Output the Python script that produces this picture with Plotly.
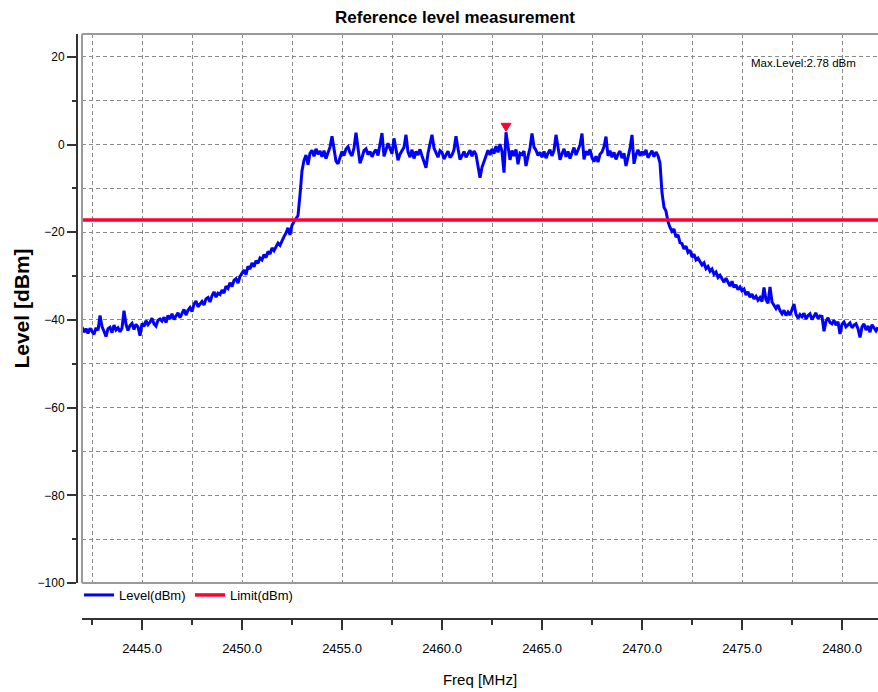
import plotly.graph_objects as go

# ---------------- data ----------------
FREQ_START_MHZ = 2442.0
FREQ_STEP_MHZ = 0.1

LEVEL_DBM = [
    # 2442.0 - 2442.9
    -41.6, -42.8, -42.0, -43.1, -41.9, -42.5, -43.3, -41.8, -42.4, -39.0,
    # 2443
    -41.5, -42.6, -43.8, -42.0, -41.7, -42.9, -41.2, -42.3, -41.8, -42.7,
    # 2444
    -41.9, -37.9, -41.0, -42.4, -41.3, -40.8, -42.2, -41.0, -41.6, -43.6,
    # 2445
    -40.8, -41.5, -40.2, -41.1, -40.5, -39.6, -40.9, -41.4, -40.1, -39.8,
    # 2446
    -40.3, -39.4, -40.6, -39.0, -39.8, -38.6, -39.9, -39.1, -38.4, -39.5,
    # 2447
    -38.7, -37.6, -38.9, -37.8, -37.2, -38.1, -36.4, -35.7, -37.0, -36.3,
    # 2448
    -35.8, -36.6, -35.2, -34.9, -35.9, -34.5, -33.6, -34.8, -33.9, -34.2,
    # 2449
    -33.2, -33.9, -32.3, -32.8, -31.5, -32.4, -31.0, -30.6, -31.6, -30.1,
    # 2450
    -29.4, -28.6, -29.7, -27.8, -28.4, -27.0, -27.9, -26.5, -27.1, -25.9,
    # 2451
    -26.3, -25.1, -25.8, -24.4, -25.0, -23.6, -24.2, -23.4, -22.5, -23.0,
    # 2452
    -21.8, -21.0, -20.2, -19.0, -20.6, -18.4, -17.6, -16.9, -16.2, -11.5,
    # 2453
    -6.0, -3.6, -2.4, -4.6, -2.0, -1.3, -2.7, -1.0, -2.2, -1.5,
    # 2454
    -2.8, -1.4, -3.2, -1.9, -0.6, 1.9, -1.6, -3.8, -4.4, -2.9,
    # 2455
    -1.6, -2.5, -1.0, -0.5, -1.9, -2.6, -0.8, 2.7, -1.2, -4.3,
    # 2456
    -3.0, -1.4, -1.0, -2.3, -1.6, -2.8, -1.8, -1.2, -2.5, -0.3,
    # 2457
    2.6, -2.7, -1.4, 0.3, -0.9, -2.1, 1.4, -1.0, -3.6, -2.2,
    # 2458
    -1.3, -0.6, 2.2, -1.7, -2.9, -1.2, -3.2, -1.6, -2.4, -1.1,
    # 2459
    -2.6, -3.8, -5.3, -2.0, 0.1, 2.2, -0.8, -1.9, -2.9, -1.4,
    # 2460
    -1.8, -3.3, -2.2, -1.5, -3.0, -2.4, -1.2, 1.9, -0.9, -3.4,
    # 2461
    -2.6, -1.6, -2.9, -1.9, -1.3, -2.7, -1.5, -2.3, -4.8, -7.6,
    # 2462
    -5.2, -4.0, -2.6, -1.3, -2.4, -1.0, -2.1, -0.4, -1.8, 0.1,
    # 2463
    -1.6, -6.4, 2.78, -0.6, -3.5, -1.4, -2.6, -1.1, -4.5, -2.0,
    # 2464
    -2.3, -1.5, -4.9, -2.7, -0.8, 2.5, -0.6, -1.3, -2.5, -1.8,
    # 2465
    -2.9, -1.6, -3.1, -2.0, -1.2, -2.6, -1.4, 2.2, -0.9, -3.5,
    # 2466
    -2.1, -1.0, -2.8, -1.6, -3.2, -1.9, -0.7, -2.4, -1.3, -0.1,
    # 2467
    2.5, -3.4, -1.5, -2.4, -1.1, -3.0, -3.9, -2.7, -4.0, -2.2,
    # 2468
    -1.7, -0.5, 1.8, -2.6, -1.4, -2.9, -1.8, -3.4, -2.2, -1.5,
    # 2469
    -3.1, -2.0, -4.9, -2.8, -0.9, 2.2, -4.4, -2.3, -1.2, -2.6,
    # 2470
    -1.6, -2.4, -1.2, -3.0, -2.1, -1.4, -2.8, -1.7, -2.6, -4.2,
    # 2471
    -11.0, -14.3, -15.2, -17.6, -18.9, -19.8, -19.3, -21.1, -20.6, -22.4,
    # 2472
    -22.6, -23.8, -23.2, -24.6, -24.1, -25.7, -25.0, -26.3, -25.9, -26.8,
    # 2473
    -27.5, -27.0, -28.3, -27.8, -28.9, -28.4, -29.6, -29.1, -30.3, -29.8,
    # 2474
    -30.7, -31.4, -30.5, -31.6, -32.3, -31.2, -32.6, -32.0, -33.1, -32.5,
    # 2475
    -33.4, -33.0, -34.3, -33.6, -34.8, -34.1, -35.2, -34.6, -35.5, -34.9,
    # 2476
    -35.8, -32.6, -35.4, -36.2, -32.5, -35.9, -36.8, -37.4, -36.6, -37.9,
    # 2477
    -38.6, -37.8, -39.0, -38.2, -38.9, -37.6, -36.4, -38.7, -39.6, -38.8,
    # 2478
    -39.3, -38.5, -39.8, -39.0, -38.6, -39.9, -39.2, -38.4, -39.7, -39.1,
    # 2479
    -39.2, -42.6, -40.3, -39.5, -40.6, -40.9, -40.1, -41.2, -40.4, -43.2,
    # 2480
    -41.0, -40.5, -41.6, -41.1, -40.7, -41.8, -41.2, -40.9, -42.0, -44.0,
    # 2481.0 - 2481.8
    -41.6, -40.9, -42.3, -41.4, -42.8, -41.1, -41.9, -42.5, -41.7,
]

LIMIT_DBM = -17.22

X_RANGE = [2442.0, 2481.8]
Y_RANGE = [-100, 25.2]

SERIES_NAMES = ["Level(dBm)", "Limit(dBm)"]
TITLE = "Reference level measurement"
X_TITLE = "Freq [MHz]"
Y_TITLE = "Level [dBm]"

# ---------------- derived ----------------
freq = [round(FREQ_START_MHZ + i * FREQ_STEP_MHZ, 2) for i in range(len(LEVEL_DBM))]
i_max = max(range(len(LEVEL_DBM)), key=lambda i: LEVEL_DBM[i])
f_max, v_max = freq[i_max], LEVEL_DBM[i_max]

FONT = "Liberation Sans, Arial, sans-serif"
GRID = "#8a8a8a"
AXIS = "#333333"

W, H = 878, 692
ML, MR, MT, MB = 77, 0, 34, 73
PW, PH = W - ML - MR, H - MT - MB

fig = go.Figure()
fig.add_trace(go.Scatter(
    x=freq, y=LEVEL_DBM, mode="lines", name=SERIES_NAMES[0],
    line=dict(color="#0000ff", width=3), hoverinfo="skip",
))
fig.add_trace(go.Scatter(
    x=[X_RANGE[0], X_RANGE[1]], y=[LIMIT_DBM, LIMIT_DBM], mode="lines",
    name=SERIES_NAMES[1], line=dict(color="#ff0033", width=3.5), hoverinfo="skip",
))

dash = "4px,3px"
fig.update_layout(
    width=W, height=H, autosize=False,
    margin=dict(l=ML, r=MR, t=MT, b=MB, pad=0),
    paper_bgcolor="white", plot_bgcolor="white",
    title=dict(text="<b>%s</b>" % TITLE, font=dict(family=FONT, size=17, color="black"),
               x=455 / W, xref="container", xanchor="center",
               y=1 - 17 / H, yref="container", yanchor="middle"),
    xaxis=dict(
        domain=[5 / PW, 1], anchor="free", position=0,
        range=X_RANGE, tickmode="linear", tick0=2445, dtick=5, tickformat=".1f",
        ticks="outside", ticklen=10, tickwidth=2, tickcolor=AXIS,
        ticklabelstandoff=7,
        showline=True, linecolor=AXIS, linewidth=2,
        showgrid=True, gridcolor=GRID, gridwidth=1, griddash=dash,
        minor=dict(tick0=2442.5, dtick=2.5, ticks="outside", ticklen=5, tickwidth=2,
                   tickcolor=AXIS, showgrid=True, gridcolor=GRID, gridwidth=1, griddash=dash),
        zeroline=False,
        tickfont=dict(family=FONT, size=13, color="black"),
        title=dict(text=X_TITLE, font=dict(family=FONT, size=15, color="black"), standoff=19),
    ),
    yaxis=dict(
        domain=[36 / PH, 1], anchor="free", position=0,
        range=Y_RANGE, tickmode="linear", tick0=0, dtick=20,
        ticks="outside", ticklen=9, tickwidth=2, tickcolor=AXIS,
        showline=True, linecolor=AXIS, linewidth=2,
        showgrid=True, gridcolor=GRID, gridwidth=1, griddash=dash,
        minor=dict(tick0=0, dtick=10, ticks="outside", ticklen=4, tickwidth=2,
                   tickcolor=AXIS, showgrid=True, gridcolor=GRID, gridwidth=1, griddash=dash),
        zeroline=False,
        tickfont=dict(family=FONT, size=12, color="black"),
        title=dict(text="<b>%s</b>" % Y_TITLE,
                   font=dict(family=FONT, size=21, color="black"),
                   standoff=1),
    ),
    legend=dict(
        orientation="h", x=2 / PW, xanchor="left", y=24 / PH, yanchor="middle",
        bgcolor="rgba(0,0,0,0)", font=dict(family=FONT, size=13, color="black"),
        itemwidth=30, entrywidth=66, entrywidthmode="pixels",
    ),
    showlegend=True,
)

# plot-area border (top, left, bottom)
for x0, y0, x1, y1 in [(0, 1, 1, 1), (0, 0, 0, 1), (0, 0, 1, 0)]:
    fig.add_shape(type="line", xref="x domain", yref="y domain", x0=x0, y0=y0, x1=x1, y1=y1,
                  line=dict(color="#9a9a9a", width=2), layer="above")

# peak marker (red down triangle at the maximum)
fig.add_shape(type="path", xref="x", yref="y", xsizemode="pixel", ysizemode="pixel",
              xanchor=f_max, yanchor=v_max, path="M -5 9 L 5 9 L 0 1 Z",
              fillcolor="#ff0033", line=dict(color="#ff0033", width=1), layer="above")

fig.add_annotation(
    text="Max.Level:%.2f dBm" % v_max, xref="paper", yref="paper",
    x=(858 - ML) / PW, xanchor="right", y=(H - MB - 63) / PH, yanchor="middle",
    showarrow=False, font=dict(family=FONT, size=11.5, color="black"),
)

fig.write_html(
    "out.html",
    config={"displayModeBar": False},
    post_script="document.body.style.margin='0';document.body.style.padding='0';",
)
